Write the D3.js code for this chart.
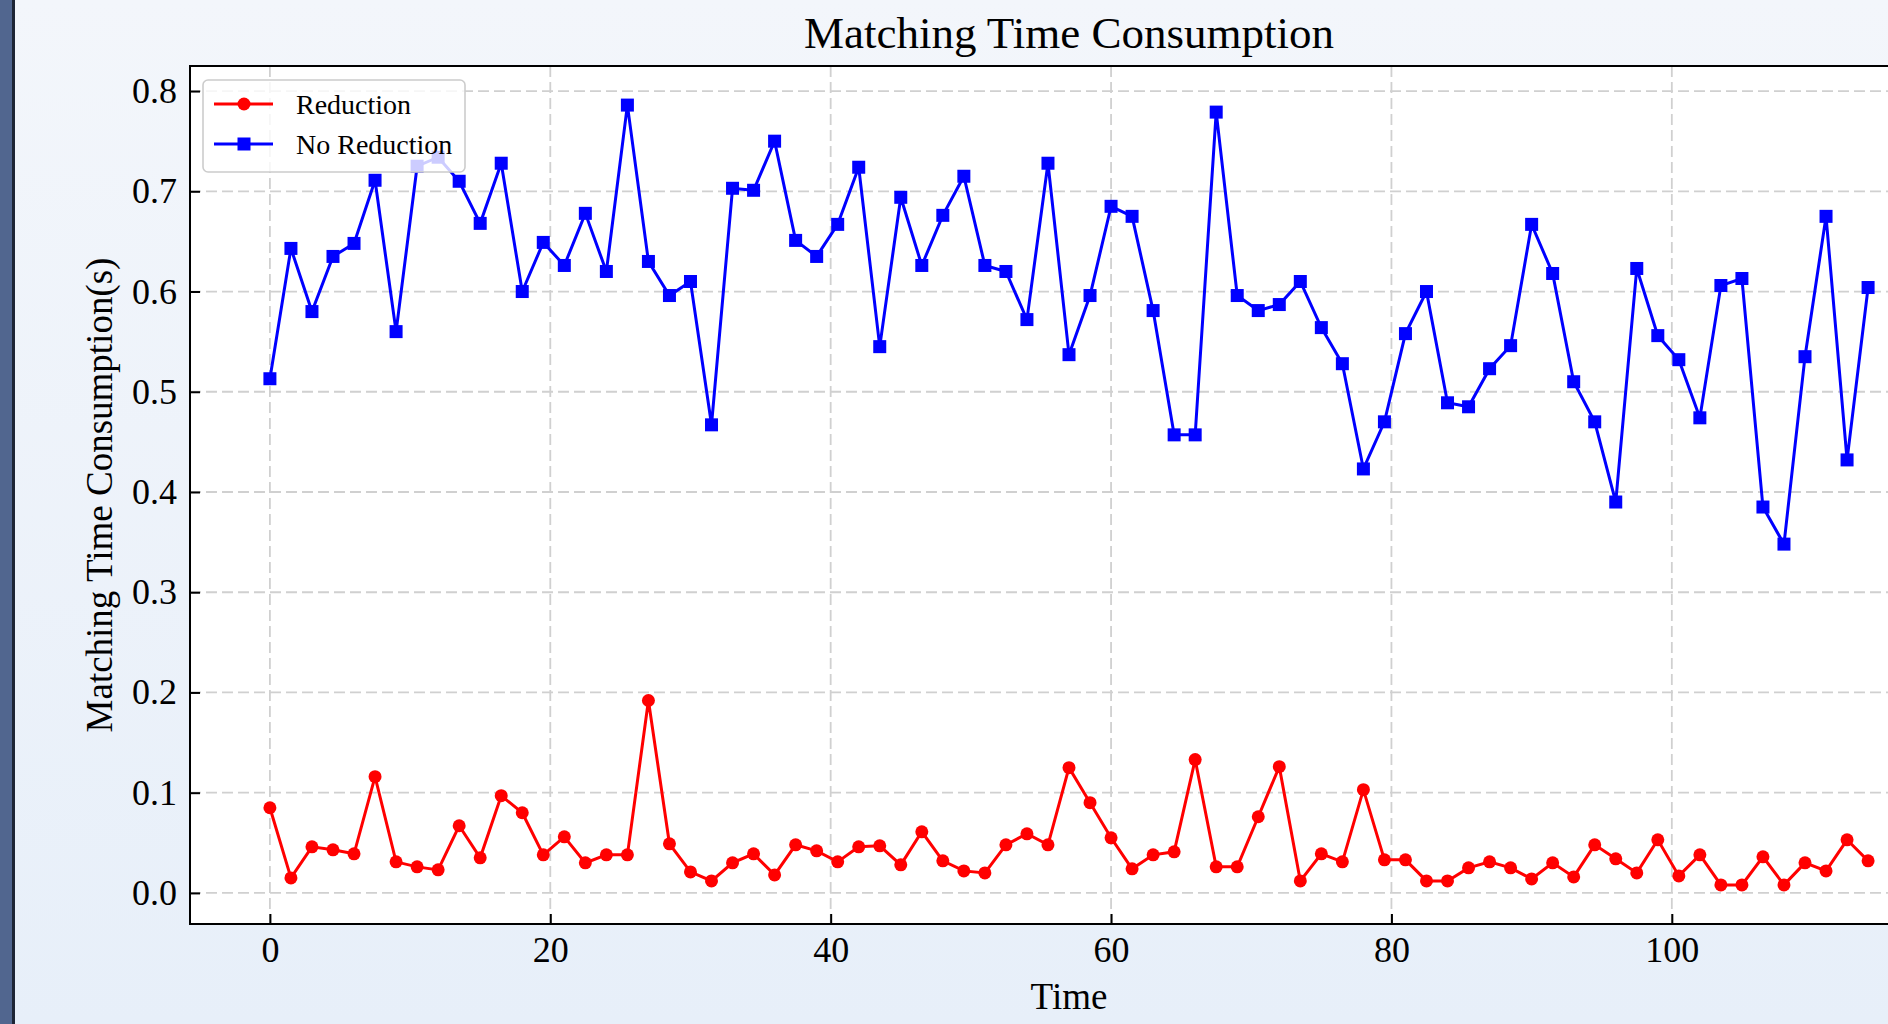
<!DOCTYPE html>
<html>
<head>
<meta charset="utf-8">
<script src="https://cdn.jsdelivr.net/npm/d3@7"></script>
<style>
  html, body { margin: 0; padding: 0; }
  body { width: 1888px; height: 1024px; overflow: hidden; }
  svg text { font-family: "Liberation Serif", "Times New Roman", serif; fill: #000; }
</style>
</head>
<body>
<svg id="chart" width="1888" height="1024"></svg>
<script>
// x positions (time steps)
var times = [0, 1.5, 3, 4.5, 6, 7.5, 9, 10.5, 12, 13.5, 15, 16.5, 18, 19.5, 21, 22.5, 24, 25.5, 27, 28.5,
    30, 31.5, 33, 34.5, 36, 37.5, 39, 40.5, 42, 43.5, 45, 46.5, 48, 49.5, 51, 52.5, 54, 55.5, 57, 58.5,
    60, 61.5, 63, 64.5, 66, 67.5, 69, 70.5, 72, 73.5, 75, 76.5, 78, 79.5, 81, 82.5, 84, 85.5, 87, 88.5,
    90, 91.5, 93, 94.5, 96, 97.5, 99, 100.5, 102, 103.5, 105, 106.5, 108, 109.5, 111, 112.5, 114];

var reduction = [0.085, 0.015, 0.046, 0.043, 0.039, 0.116, 0.031, 0.026, 0.023, 0.067,
    0.035, 0.097, 0.080, 0.038, 0.056, 0.030, 0.038, 0.038, 0.192, 0.049,
    0.021, 0.012, 0.030, 0.039, 0.018, 0.048, 0.042, 0.031, 0.046, 0.047,
    0.028, 0.061, 0.032, 0.022, 0.020, 0.048, 0.059, 0.048, 0.125, 0.090,
    0.055, 0.024, 0.038, 0.041, 0.133, 0.026, 0.026, 0.076, 0.126, 0.012,
    0.039, 0.031, 0.103, 0.033, 0.033, 0.012, 0.012, 0.025, 0.031, 0.025,
    0.014, 0.030, 0.016, 0.048, 0.034, 0.020, 0.053, 0.017, 0.038, 0.008,
    0.008, 0.036, 0.008, 0.030, 0.022, 0.053, 0.032];

var noReduction = [0.513, 0.643, 0.580, 0.635, 0.648, 0.711, 0.560, 0.725, 0.734, 0.710,
    0.668, 0.728, 0.600, 0.649, 0.626, 0.678, 0.620, 0.786, 0.630, 0.596,
    0.610, 0.467, 0.703, 0.701, 0.750, 0.651, 0.635, 0.667, 0.724, 0.545,
    0.694, 0.626, 0.676, 0.715, 0.626, 0.620, 0.572, 0.728, 0.537, 0.596,
    0.685, 0.675, 0.581, 0.457, 0.457, 0.779, 0.596, 0.581, 0.587, 0.610,
    0.564, 0.528, 0.423, 0.470, 0.558, 0.600, 0.489, 0.485, 0.523, 0.546,
    0.667, 0.618, 0.510, 0.470, 0.390, 0.623, 0.556, 0.532, 0.474, 0.606,
    0.613, 0.385, 0.348, 0.535, 0.675, 0.432, 0.604];

var xTicks = [0, 20, 40, 60, 80, 100];
var yTicks = [0.0, 0.1, 0.2, 0.3, 0.4, 0.5, 0.6, 0.7, 0.8];
var seriesNames = ['Reduction', 'No Reduction'];

var svg = d3.select('#chart');
var W = 1888, H = 1024;
var plotL = 190, plotR = 1948, plotT = 66, plotB = 924;

// page background
var defs = svg.append('defs');
var grad = defs.append('linearGradient').attr('id', 'bg')
    .attr('x1', 0).attr('y1', 0).attr('x2', 0).attr('y2', 1);
grad.append('stop').attr('offset', '0%').attr('stop-color', '#f3f6fb');
grad.append('stop').attr('offset', '100%').attr('stop-color', '#e7eff9');
svg.append('rect').attr('width', W).attr('height', H).attr('fill', 'url(#bg)');
svg.append('rect').attr('x', 0).attr('y', 0).attr('width', 12).attr('height', H).attr('fill', '#51668f');
svg.append('rect').attr('x', 12).attr('y', 0).attr('width', 3).attr('height', H).attr('fill', '#1d2535');

var x = d3.scaleLinear().domain([-5.7, 119.7]).range([plotL, plotR]);
var y = d3.scaleLinear().domain([-0.031, 0.825]).range([plotB, plotT]);

// plot area
svg.append('rect')
    .attr('x', plotL).attr('y', plotT)
    .attr('width', plotR - plotL).attr('height', plotB - plotT)
    .attr('fill', '#fff');

// grid
var grid = svg.append('g').attr('class', 'grid');
grid.selectAll('line.gx')
    .data(xTicks)
    .join('line')
    .attr('class', 'gx')
    .attr('x1', function(d) { return x(d); })
    .attr('x2', function(d) { return x(d); })
    .attr('y1', plotT).attr('y2', plotB);
grid.selectAll('line.gy')
    .data(yTicks)
    .join('line')
    .attr('class', 'gy')
    .attr('x1', plotL).attr('x2', plotR)
    .attr('y1', function(d) { return y(d); })
    .attr('y2', function(d) { return y(d); });
grid.selectAll('line')
    .style('stroke', '#d0d0d0')
    .style('stroke-width', 1.8)
    .style('stroke-dasharray', '11 5');

// series
function drawSeries(values, color, cls) {
    var pts = values.map(function(v, i) { return [times[i], v]; });
    var g = svg.append('g').attr('class', cls);
    g.append('path')
        .datum(pts)
        .attr('d', d3.line()
            .x(function(d) { return x(d[0]); })
            .y(function(d) { return y(d[1]); }))
        .style('fill', 'none')
        .style('stroke', color)
        .style('stroke-width', 3)
        .style('stroke-linejoin', 'miter');
    return { g: g, pts: pts };
}

var red = drawSeries(reduction, '#ff0000', 'reduction');
red.g.selectAll('circle')
    .data(red.pts)
    .join('circle')
    .attr('cx', function(d) { return x(d[0]); })
    .attr('cy', function(d) { return y(d[1]); })
    .attr('r', 6.5)
    .style('fill', '#ff0000');

var blue = drawSeries(noReduction, '#0000ff', 'noreduction');
blue.g.selectAll('rect')
    .data(blue.pts)
    .join('rect')
    .attr('x', function(d) { return x(d[0]) - 6.5; })
    .attr('y', function(d) { return y(d[1]) - 6.5; })
    .attr('width', 13)
    .attr('height', 13)
    .style('fill', '#0000ff');

// axes, ticks pointing inward
var xAxis = svg.append('g')
    .attr('transform', 'translate(0,' + plotB + ')')
    .call(d3.axisBottom(x).tickValues(xTicks).tickFormat(d3.format('d'))
        .tickSizeInner(-10).tickSizeOuter(0).tickPadding(12));
var yAxis = svg.append('g')
    .attr('transform', 'translate(' + plotL + ',0)')
    .call(d3.axisLeft(y).tickValues(yTicks).tickFormat(d3.format('.1f'))
        .tickSizeInner(-10).tickSizeOuter(0).tickPadding(13));
[xAxis, yAxis].forEach(function(a) {
    a.select('.domain').remove();
    a.selectAll('.tick line').style('stroke', '#000').style('stroke-width', 2);
    a.selectAll('.tick text').style('font-size', '36px')
        .style('font-family', '"Liberation Serif", "Times New Roman", serif');
});

// frame
svg.append('rect')
    .attr('x', plotL).attr('y', plotT)
    .attr('width', plotR - plotL).attr('height', plotB - plotT)
    .style('fill', 'none')
    .style('stroke', '#000')
    .style('stroke-width', 2);

// titles
svg.append('text')
    .attr('x', (plotL + plotR) / 2).attr('y', 48)
    .attr('text-anchor', 'middle')
    .style('font-size', '45px')
    .text('Matching Time Consumption');
svg.append('text')
    .attr('x', (plotL + plotR) / 2).attr('y', 1009)
    .attr('text-anchor', 'middle')
    .style('font-size', '37px')
    .text('Time');
svg.append('text')
    .attr('transform', 'translate(112,' + ((plotT + plotB) / 2) + ') rotate(-90)')
    .attr('text-anchor', 'middle')
    .style('font-size', '37px')
    .text('Matching Time Consumption(s)');

// legend
var legend = svg.append('g').attr('class', 'legend');
legend.append('rect')
    .attr('x', 203).attr('y', 80)
    .attr('width', 262).attr('height', 92)
    .attr('rx', 5)
    .style('fill', '#fff')
    .style('fill-opacity', 0.8)
    .style('stroke', '#cccccc')
    .style('stroke-width', 1.6);

var items = legend.selectAll('g.item')
    .data(seriesNames)
    .join('g')
    .attr('class', 'item')
    .attr('transform', function(d, i) { return 'translate(0,' + (104 + i * 40) + ')'; });
items.append('line')
    .attr('x1', 214).attr('x2', 273)
    .style('stroke', function(d, i) { return i === 0 ? '#ff0000' : '#0000ff'; })
    .style('stroke-width', 3);
items.filter(function(d, i) { return i === 0; })
    .append('circle')
    .attr('cx', 244).attr('r', 6.5)
    .style('fill', '#ff0000');
items.filter(function(d, i) { return i === 1; })
    .append('rect')
    .attr('x', 237.5).attr('y', -6.5)
    .attr('width', 13).attr('height', 13)
    .style('fill', '#0000ff');
items.append('text')
    .attr('x', 296).attr('y', 10)
    .style('font-size', '28px')
    .text(function(d) { return d; });
</script>
</body>
</html>
